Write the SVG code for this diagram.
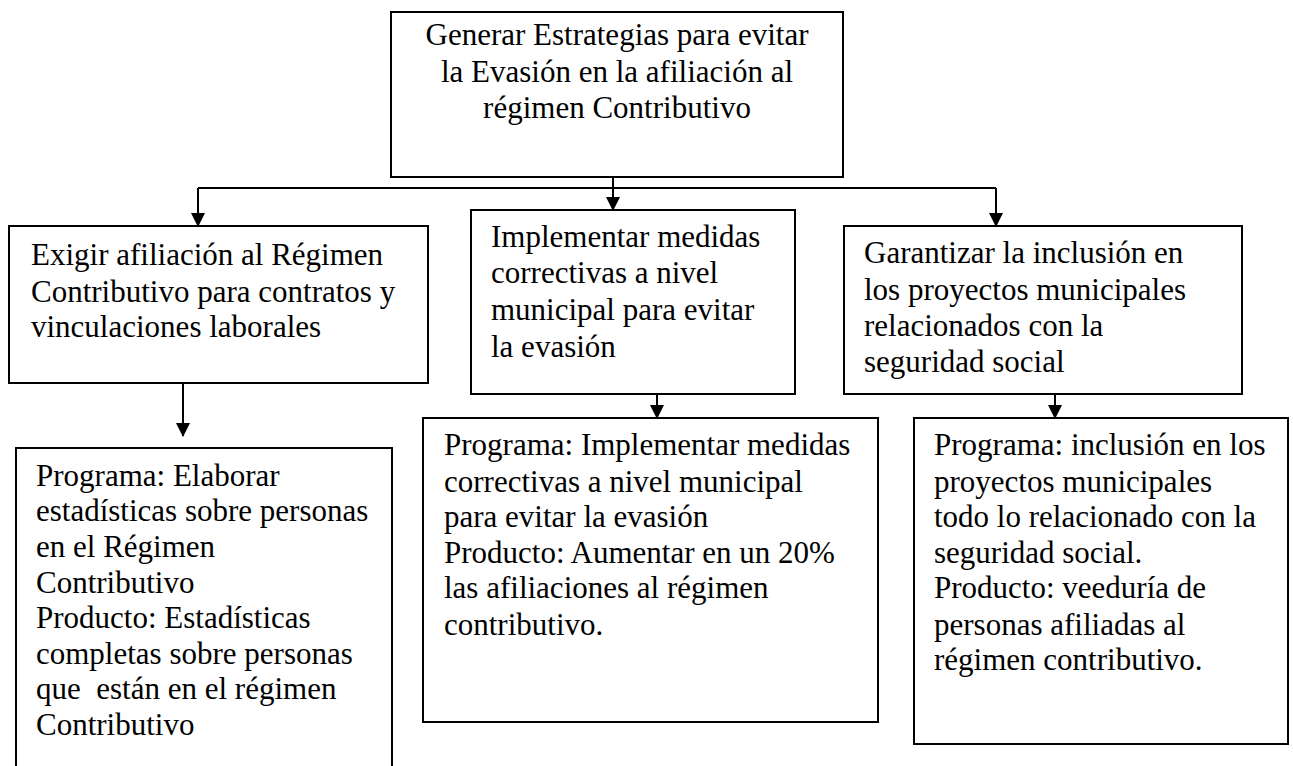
<svg xmlns="http://www.w3.org/2000/svg" width="1293" height="766" viewBox="0 0 1293 766">
<style>
.box{fill:#fff;stroke:#000;stroke-width:2}
.t{font-family:"Liberation Serif","Times New Roman",serif;font-size:31px;fill:#000}
.c{fill:none;stroke:#000;stroke-width:2}
</style>
<defs>
<marker id="arr" markerWidth="14" markerHeight="14" refX="13" refY="7" orient="auto" markerUnits="userSpaceOnUse">
<path d="M0,0 L14,7 L0,14 Z" fill="#000"/>
</marker>
</defs>
<rect width="1293" height="766" fill="#fff"/>
<g id="top">
<rect class="box" x="391" y="12" width="452" height="165"/>
<text class="t" text-anchor="middle"><tspan x="617" y="45">Generar Estrategias para evitar</tspan><tspan x="617" y="82">la Evasión en la afiliación al</tspan><tspan x="617" y="118">régimen Contributivo</tspan></text>
</g>
<g id="left">
<rect class="box" x="9" y="226" width="419" height="157"/>
<text class="t"><tspan x="31" y="265">Exigir afiliación al Régimen</tspan><tspan x="31" y="302">Contributivo para contratos y</tspan><tspan x="31" y="337">vinculaciones laborales</tspan></text>
</g>
<g id="middle">
<rect class="box" x="471" y="210" width="324" height="184"/>
<text class="t"><tspan x="491" y="247">Implementar medidas</tspan><tspan x="491" y="283">correctivas a nivel</tspan><tspan x="491" y="320">municipal para evitar</tspan><tspan x="491" y="357">la evasión</tspan></text>
</g>
<g id="right">
<rect class="box" x="844" y="226" width="398" height="168"/>
<text class="t"><tspan x="864" y="263">Garantizar la inclusión en</tspan><tspan x="864" y="300">los proyectos municipales</tspan><tspan x="864" y="336">relacionados con la</tspan><tspan x="864" y="372">seguridad social</tspan></text>
</g>
<g id="bottom-left">
<rect class="box" x="16" y="448" width="376" height="340"/>
<text class="t"><tspan x="36" y="486">Programa: Elaborar</tspan><tspan x="36" y="521">estadísticas sobre personas</tspan><tspan x="36" y="557">en el Régimen</tspan><tspan x="36" y="593">Contributivo</tspan><tspan x="36" y="628">Producto: Estadísticas</tspan><tspan x="36" y="664">completas sobre personas</tspan><tspan x="36" y="699" xml:space="preserve">que  están en el régimen</tspan><tspan x="36" y="735">Contributivo</tspan></text>
</g>
<g id="bottom-middle">
<rect class="box" x="423" y="418" width="455" height="304"/>
<text class="t"><tspan x="444" y="455">Programa: Implementar medidas</tspan><tspan x="444" y="492">correctivas a nivel municipal</tspan><tspan x="444" y="527">para evitar la evasión</tspan><tspan x="444" y="563">Producto: Aumentar en un 20%</tspan><tspan x="444" y="598">las afiliaciones al régimen</tspan><tspan x="444" y="635">contributivo.</tspan></text>
</g>
<g id="bottom-right">
<rect class="box" x="914" y="418" width="374" height="326"/>
<text class="t"><tspan x="934" y="455">Programa: inclusión en los</tspan><tspan x="934" y="492">proyectos municipales</tspan><tspan x="934" y="527">todo lo relacionado con la</tspan><tspan x="934" y="563">seguridad social.</tspan><tspan x="934" y="598">Producto: veeduría de</tspan><tspan x="934" y="635">personas afiliadas al</tspan><tspan x="934" y="670">régimen contributivo.</tspan></text>
</g>
<g id="connectors">
<path class="c" d="M198,188 H996"/>
<path class="c" d="M613,177 V210" marker-end="url(#arr)"/>
<path class="c" d="M198,188 V226" marker-end="url(#arr)"/>
<path class="c" d="M996,188 V226" marker-end="url(#arr)"/>
<path class="c" d="M183,383 V436" marker-end="url(#arr)"/>
<path class="c" d="M657,394 V418" marker-end="url(#arr)"/>
<path class="c" d="M1055,394 V418" marker-end="url(#arr)"/>
</g>
</svg>
